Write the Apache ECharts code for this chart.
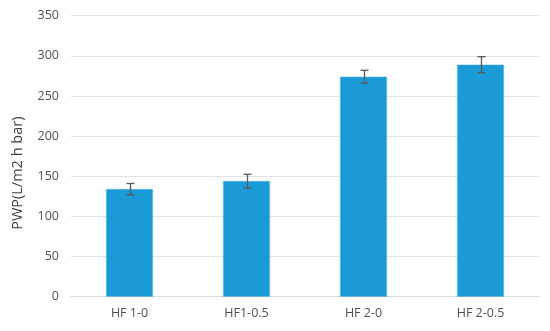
<!DOCTYPE html>
<html>
<head>
<meta charset="utf-8">
<script src="https://cdn.jsdelivr.net/npm/echarts@6/dist/echarts.min.js"></script>
<style>html,body{margin:0;padding:0;background:#fff;}#c{width:550px;height:331px;}</style>
</head>
<body>
<div id="c"></div>
<script>
const categories = ['HF 1-0', 'HF1-0.5', 'HF 2-0', 'HF 2-0.5'];
const pwpValues = [134, 144, 274, 289];
const pwpErrors = [7, 8.5, 8, 10];
const yTicks = { min: 0, max: 350, interval: 50 };
const yTitle = 'PWP(L/m2 h bar)';

const chart = echarts.init(document.getElementById('c'), null, { renderer: 'canvas' });
const font = '"Open Sans", sans-serif';
chart.setOption({
  animation: false,
  backgroundColor: '#fff',
  grid: { left: 71, right: 11, top: 15.7, bottom: 34.3, containLabel: false },
  xAxis: {
    type: 'category',
    data: categories,
    axisLine: { lineStyle: { color: '#d9d9d9', width: 1 } },
    axisTick: { show: false },
    axisLabel: { color: '#505050', fontSize: 12.5, fontFamily: font, margin: 10 }
  },
  yAxis: {
    type: 'value',
    min: yTicks.min, max: yTicks.max, interval: yTicks.interval,
    name: yTitle,
    nameLocation: 'middle',
    nameGap: 46,
    nameTextStyle: { color: '#404040', fontSize: 14.5, fontFamily: font, padding: [0, 34, 0, 0] },
    axisLine: { show: false },
    axisTick: { show: false },
    splitLine: { lineStyle: { color: '#e3e3e3', width: 1 } },
    axisLabel: { color: '#505050', fontSize: 12.5, fontFamily: font, margin: 12 }
  },
  series: [
    {
      type: 'bar',
      data: pwpValues,
      barCategoryGap: '60%',
      itemStyle: { color: '#1a9bd7', borderColor: '#4fb3e3', borderWidth: 0.5 }
    },
    {
      type: 'custom',
      data: pwpValues.map((v, i) => [i, v - pwpErrors[i], v + pwpErrors[i]]),
      z: 10,
      renderItem: function (params, api) {
        const lo = api.coord([api.value(0), api.value(1)]);
        const hi = api.coord([api.value(0), api.value(2)]);
        const x = Math.round(lo[0]) + 0.5;
        const cap = 4;
        const style = { stroke: '#595959', lineWidth: 1.3, fill: null };
        return {
          type: 'group',
          children: [
            { type: 'line', shape: { x1: x, y1: lo[1], x2: x, y2: hi[1] }, style },
            { type: 'line', shape: { x1: x - cap, y1: lo[1], x2: x + cap, y2: lo[1] }, style },
            { type: 'line', shape: { x1: x - cap, y1: hi[1], x2: x + cap, y2: hi[1] }, style }
          ]
        };
      }
    }
  ]
});
</script>
</body>
</html>
